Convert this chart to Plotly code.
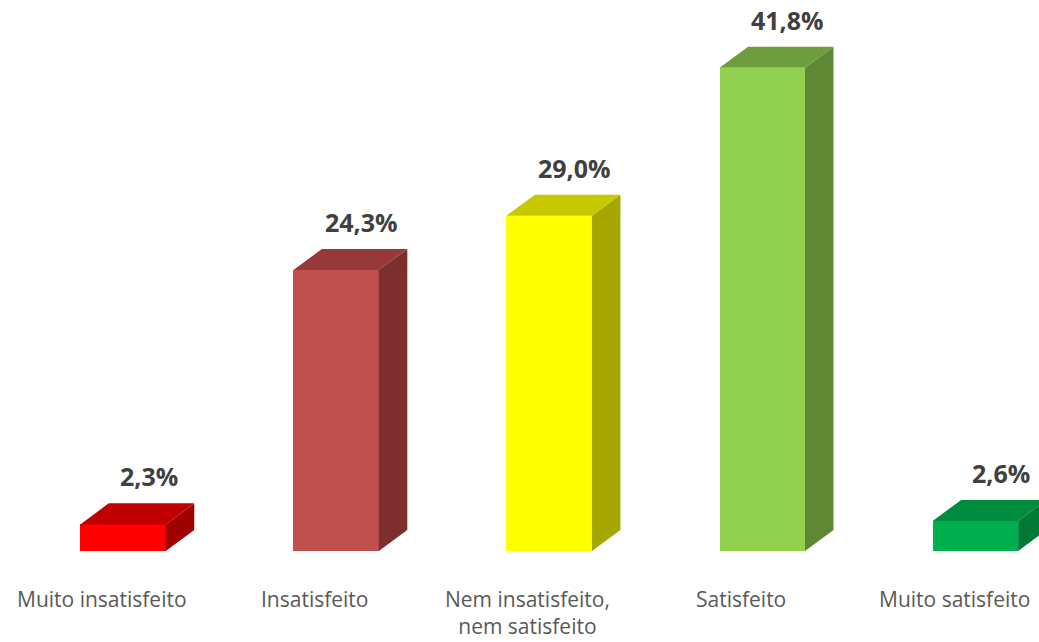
import plotly.graph_objects as go

categories = ["Muito insatisfeito", "Insatisfeito", "Nem insatisfeito,<br>nem satisfeito", "Satisfeito", "Muito satisfeito"]
values = [2.3, 24.3, 29.0, 41.8, 2.6]
value_labels = ["2,3%", "24,3%", "29,0%", "41,8%", "2,6%"]
front_colors = ["#FF0000", "#C0504D", "#FFFF00", "#92D050", "#00B050"]
top_colors = ["#C00000", "#953A38", "#C8C800", "#6E9D3D", "#008C3F"]
side_colors = ["#A00000", "#7D2F2E", "#A6A600", "#5E8834", "#007A35"]

W = 0.401      # front face width (category units)
DX = 0.1337    # depth offset x (category units)
DY = 1.82      # depth offset y (percent units)

xs = list(range(len(values)))
fig = go.Figure()

fig.add_trace(go.Bar(
    x=xs, y=values, width=W,
    marker=dict(color=front_colors, line=dict(width=0)),
    hoverinfo="skip", showlegend=False,
))

for x, v, tc, sc in zip(xs, values, top_colors, side_colors):
    l, r = x - W / 2, x + W / 2
    fig.add_trace(go.Scatter(
        x=[r, r + DX, r + DX, r, r], y=[0, DY, v + DY, v, 0],
        mode="none", fill="toself", fillcolor=sc,
        hoverinfo="skip", showlegend=False,
    ))
    fig.add_trace(go.Scatter(
        x=[l, r, r + DX, l + DX, l], y=[v, v, v + DY, v + DY, v],
        mode="none", fill="toself", fillcolor=tc,
        hoverinfo="skip", showlegend=False,
    ))

annotations = []
for x, v, t in zip(xs, values, value_labels):
    annotations.append(dict(
        x=x + DX * 0.9, y=v + DY, xref="x", yref="y", text=f"<b>{t}</b>",
        showarrow=False, yanchor="bottom", yshift=8,
        font=dict(family="Open Sans", size=25, color="#404040"),
    ))
for x, c in zip(xs, categories):
    annotations.append(dict(
        x=x - 0.1, y=0, xref="x", yref="paper", text=c,
        showarrow=False, yanchor="top", yshift=-33, borderpad=0,
        font=dict(family="Open Sans", size=21, color="#595959"),
    ))

fig.update_layout(
    width=1039, height=642,
    margin=dict(l=0, r=0, t=0, b=91),
    paper_bgcolor="white", plot_bgcolor="white",
    xaxis=dict(range=[-0.5772, 4.2985], visible=False, fixedrange=True),
    yaxis=dict(range=[0, 47.66], visible=False, fixedrange=True),
    annotations=annotations,
    bargap=0,
)

fig.write_html("out.html", config={"displayModeBar": False},
               post_script="document.body.style.margin='0';")
